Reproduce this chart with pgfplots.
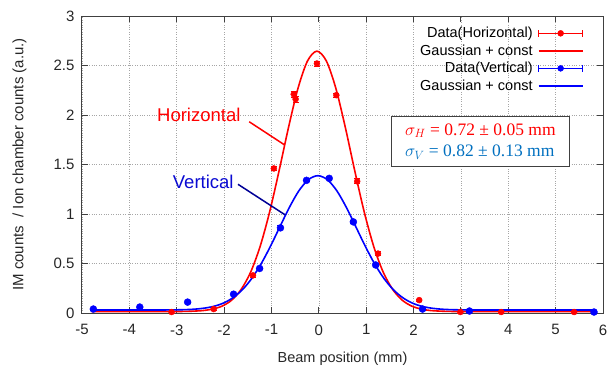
\documentclass[border=0pt]{standalone}
\usepackage{pgfplots}
\pgfplotsset{compat=1.18}
\usepackage{fontspec}
\setmainfont{Liberation Sans}
\newfontfamily\boxfont{Liberation Serif}
\definecolor{hred}{RGB}{255,0,0}
\definecolor{vblue}{RGB}{0,0,255}
\definecolor{boxblue}{RGB}{0,112,192}
\definecolor{labblue}{RGB}{10,10,210}
\definecolor{lineblue}{RGB}{0,0,150}
\pgfplotsset{
  errlegend/.style={legend image code/.code={
    \draw[line width=0.9pt] (0pt,0pt) -- (44pt,0pt);
    \draw[line width=0.9pt] (0pt,-3.5pt) -- (0pt,3.5pt);
    \draw[line width=0.9pt] (44pt,-3.5pt) -- (44pt,3.5pt);
    \fill (22pt,0pt) circle (3pt);}},
  linelegend/.style={legend image code/.code={
    \draw[line width=2pt] (0pt,0pt) -- (44pt,0pt);}},
}
\begin{document}
\begin{tikzpicture}
\begin{axis}[
  scale only axis, width=521pt, height=297pt,
  xmin=-5, xmax=6, ymin=0, ymax=3,
  xtick={-5,-4,...,6}, ytick={0,0.5,...,3},
  /pgf/number format/assume math mode=true,
  tick label style={font=\fontsize{15}{17}\selectfont, text=black!85},
  yticklabel style={xshift=-4pt},
  xticklabel style={yshift=-8pt},
  every axis x label/.style={at={([yshift=-46pt]axis description cs:0.5,0)}, anchor=center,
    font=\fontsize{14.5}{16}\selectfont, text=black!85},
  every axis y label/.style={at={([xshift=-62.5pt]axis description cs:0,0.5)}, rotate=90, anchor=center,
    font=\fontsize{15}{16}\selectfont, text=black!85},
  xlabel={Beam position (mm)},
  ylabel={IM counts~~/ Ion chamber counts (a.u.)},
  grid=major,
  major grid style={dotted, gray!70, line width=0.6pt},
  axis line style={black!75, line width=1pt},
  tick style={black!75, line width=1pt},
  tick align=inside, major tick length=6pt,
  legend plot pos=right,
  legend cell align=right,
  legend style={at={(0.969,0.976)}, anchor=north east, draw=none, fill=none,
    font=\fontsize{14.5}{17}\selectfont, row sep=1.5pt,
    /tikz/every odd column/.append style={column sep=3pt}},
]
\addplot[hred, only marks, mark=*, mark size=3pt, errlegend,
  error bars/.cd, y dir=both, y explicit,
  error bar style={line width=0.9pt},
  error mark options={rotate=90, mark size=3pt, line width=0.9pt}]
coordinates {
(-3.11,0.01) +- (0,0.01)
(-2.22,0.04) +- (0,0.01)
(-1.39,0.38) +- (0,0.02)
(-0.95,1.46) +- (0,0.02)
(-0.53,2.21) +- (0,0.03)
(-0.49,2.16) +- (0,0.03)
(-0.04,2.52) +- (0,0.025)
(0.37,2.20) +- (0,0.02)
(0.81,1.33) +- (0,0.025)
(1.25,0.60) +- (0,0.02)
(2.12,0.13) +- (0,0.01)
(2.99,0.01) +- (0,0.01)
(3.85,0.01) +- (0,0.01)
(5.39,0.01) +- (0,0.01)
};
\addlegendentry{Data(Horizontal)}
\addplot[hred, line width=1.6pt, smooth, linelegend] coordinates {
(-4.80,0.015) (-4.0,0.015) (-3.5,0.015) (-3.04,0.015) (-2.84,0.016) (-2.64,0.019)
(-2.44,0.025) (-2.24,0.040) (-2.04,0.070) (-1.84,0.130) (-1.64,0.238)
(-1.44,0.412) (-1.24,0.671) (-1.04,1.018) (-0.84,1.434) (-0.64,1.874)
(-0.44,2.269) (-0.24,2.545) (-0.04,2.645) (0.16,2.545) (0.36,2.269)
(0.56,1.874) (0.76,1.434) (0.96,1.018) (1.16,0.671) (1.36,0.412)
(1.56,0.238) (1.76,0.130) (1.96,0.070) (2.16,0.040) (2.36,0.025)
(2.56,0.019) (2.76,0.016) (2.96,0.015) (3.5,0.015) (4.5,0.015) (5.85,0.015)
};
\addlegendentry{Gaussian + const}
\addplot[vblue, only marks, mark=*, mark size=3.5pt, errlegend,
  error bars/.cd, y dir=both, y explicit,
  error bar style={line width=0.9pt},
  error mark options={rotate=90, mark size=3pt, line width=0.9pt}]
coordinates {
(-4.76,0.04) +- (0,0.01)
(-3.78,0.06) +- (0,0.01)
(-2.77,0.11) +- (0,0.01)
(-1.80,0.19) +- (0,0.01)
(-1.25,0.45) +- (0,0.015)
(-0.81,0.86) +- (0,0.02)
(-0.26,1.34) +- (0,0.015)
(0.22,1.36) +- (0,0.015)
(0.73,0.92) +- (0,0.015)
(1.20,0.485) +- (0,0.015)
(2.19,0.04) +- (0,0.01)
(3.18,0.02) +- (0,0.01)
(5.81,0.01) +- (0,0.01)
};
\addlegendentry{Data(Vertical)}
\addplot[vblue, line width=1.6pt, smooth, linelegend] coordinates {
(-4.80,0.030) (-4.2,0.030) (-3.8,0.030) (-3.42,0.030) (-3.02,0.032) (-2.82,0.034)
(-2.62,0.039) (-2.42,0.049) (-2.22,0.067) (-2.02,0.099) (-1.82,0.152)
(-1.62,0.232) (-1.42,0.346) (-1.22,0.495) (-1.02,0.675) (-0.82,0.873)
(-0.62,1.068) (-0.42,1.235) (-0.22,1.347) (-0.02,1.387) (0.18,1.347)
(0.38,1.235) (0.58,1.068) (0.78,0.873) (0.98,0.675) (1.18,0.495)
(1.38,0.346) (1.58,0.232) (1.78,0.152) (1.98,0.099) (2.18,0.067)
(2.38,0.049) (2.58,0.039) (2.78,0.034) (2.98,0.032) (3.38,0.030)
(4.0,0.030) (5.0,0.030) (5.85,0.030)
};
\addlegendentry{Gaussian + const}
\draw[hred, line width=1.5pt] (axis cs:-1.47,1.932) -- (axis cs:-0.72,1.697);
\node[text=hred, font=\fontsize{18.5}{20}\selectfont] at (axis cs:-2.534,2.0) {Horizontal};
\draw[lineblue, line width=1.5pt] (axis cs:-1.706,1.30) -- (axis cs:-0.707,0.99);
\node[text=labblue, font=\fontsize{18.5}{20}\selectfont] at (axis cs:-2.44,1.326) {Vertical};
\node[draw=black!75, line width=0.9pt, fill=white, align=left,
  minimum width=178pt, minimum height=50pt, inner xsep=8pt,
  font=\fontsize{17.5}{21.5}\selectfont\boxfont] at (axis cs:3.41,1.734)
  {\textcolor{hred}{$\sigma_H$ = 0.72 ± 0.05 mm}\\
   \textcolor{boxblue}{$\sigma_V$ = 0.82 ± 0.13 mm}};
\coordinate (ll) at (rel axis cs:0,0);
\coordinate (ur) at (rel axis cs:1,1);
\end{axis}
\pgfresetboundingbox
\path ([shift={(-82pt,-54pt)}]ll) rectangle ([shift={(7pt,16pt)}]ur);
\end{tikzpicture}
\end{document}
